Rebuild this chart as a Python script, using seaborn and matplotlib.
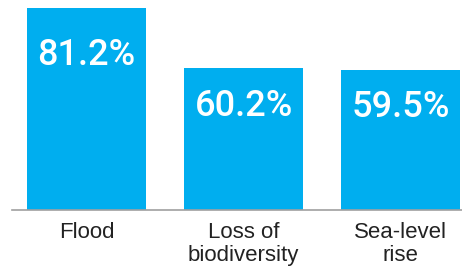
import matplotlib
matplotlib.use("Agg")
import matplotlib.pyplot as plt
import seaborn as sns
import pandas as pd

categories = ["Flood", "Loss of\nbiodiversity", "Sea-level\nrise"]
values = [81.2, 60.2, 59.5]
labels = ["81.2%", "60.2%", "59.5%"]

sns.set_theme(style="white")
plt.rcParams['font.family'] = ['Roboto', 'Liberation Sans', 'DejaVu Sans']

df = pd.DataFrame({"cat": categories, "val": values})

fig = plt.figure(figsize=(4.62, 2.70), dpi=100)
ax = fig.add_axes([12/462, 60/270, 450/462, 210/270])
sns.barplot(data=df, x="cat", y="val", color="#00AEEF", saturation=1, width=0.76, ax=ax)
for p in ax.patches:
    p.set_edgecolor("none")

ax.set_ylim(10.5, 84.0)
ax.set_xlim(-0.475, 2.39)
ax.set_xlabel("")
ax.set_ylabel("")
ax.set_yticks([])
for s in ["top", "right", "left"]:
    ax.spines[s].set_visible(False)
ax.spines["bottom"].set_color("#a0a0a0")
ax.spines["bottom"].set_linewidth(1.2)
ax.tick_params(axis="x", length=0, pad=9)
for t in ax.get_xticklabels():
    t.set_fontfamily(['Liberation Sans', 'DejaVu Sans'])
    t.set_fontsize(16)
    t.set_color("#222222")
    t.set_linespacing(1.1)

offsets = [-57, -48, -47]
for i, (v, lab) in enumerate(zip(values, labels)):
    ax.annotate(lab, xy=(i, v), xytext=(0, offsets[i] * 72 / 100), textcoords="offset points",
                ha="center", va="baseline", color="white", fontsize=26, fontweight="medium",
                family=['Roboto', 'Liberation Sans', 'DejaVu Sans'])

fig.savefig("out.png", dpi=100)
